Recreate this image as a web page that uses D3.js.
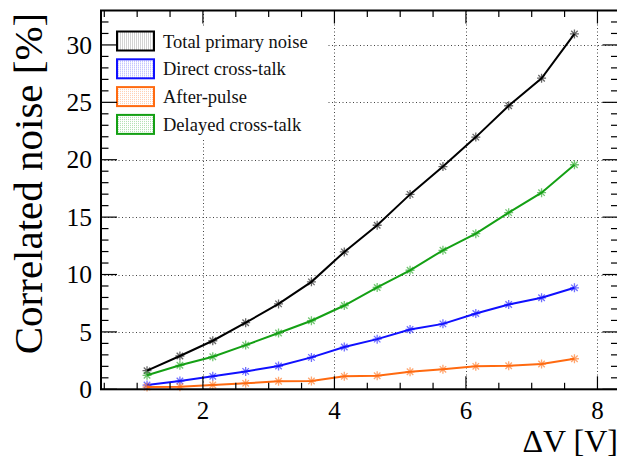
<!DOCTYPE html>
<html>
<head>
<meta charset="utf-8">
<script src="https://cdn.jsdelivr.net/npm/d3@7"></script>
<style>
  html, body { margin: 0; padding: 0; background: #fff; }
  svg { display: block; font-family: "Liberation Serif", "Times New Roman", serif; }
</style>
</head>
<body>
<svg id="chart" width="617" height="464"></svg>
<script>
// bias over breakdown, volts
const overVoltage = [1.15, 1.65, 2.15, 2.65, 3.15, 3.65, 4.15, 4.65, 5.15, 5.65, 6.15, 6.65, 7.15, 7.65];

// correlated noise, percent
const totalNoise   = [1.62, 2.9, 4.23, 5.8, 7.44, 9.36, 11.97, 14.29, 16.98, 19.4, 21.97, 24.7, 27.1, 30.96];
const directXT     = [0.37, 0.72, 1.13, 1.56, 2.03, 2.78, 3.68, 4.37, 5.21, 5.7, 6.6, 7.39, 7.97, 8.84];
const afterPulse   = [0.2, 0.23, 0.37, 0.52, 0.7, 0.72, 1.13, 1.18, 1.53, 1.74, 2.0, 2.05, 2.2, 2.66];
const delayedXT    = [1.22, 2.09, 2.84, 3.85, 4.9, 5.97, 7.3, 8.87, 10.37, 12.11, 13.56, 15.39, 17.13, 19.56];

const seriesNames  = ['Total primary noise', 'Direct cross-talk', 'After-pulse', 'Delayed cross-talk'];
const seriesColors = ['#000000', '#1010ff', '#ff6a10', '#14a014'];

const xMajorTicks = [2, 4, 6, 8];
const yMajorTicks = [0, 5, 10, 15, 20, 25, 30];

const series = [totalNoise, directXT, afterPulse, delayedXT].map((vals, i) => ({
  name: seriesNames[i],
  color: seriesColors[i],
  points: vals.map((v, j) => ({ x: overVoltage[j], y: v }))
}));

const svg = d3.select('#chart');

const frame = { left: 101, right: 618.5, top: 10.5, bottom: 389.3 };

const x = d3.scaleLinear().domain([0.45, 8.32]).range([frame.left, frame.right]);
const y = d3.scaleLinear().domain([0, 33]).range([frame.bottom, frame.top]);

const xMinor = d3.range(0.5, 8.31, 0.5).filter(v => !xMajorTicks.includes(v));
const yMinor = d3.range(1, 33, 1).filter(v => !yMajorTicks.includes(v));

// dotted grid
const grid = svg.append('g').attr('class', 'grid')
  .attr('stroke', '#444').attr('stroke-width', 1).attr('stroke-dasharray', '1,2.5');

grid.selectAll('line.gx').data(xMajorTicks).join('line')
  .attr('class', 'gx')
  .attr('x1', d => Math.round(x(d)) + 0.5).attr('x2', d => Math.round(x(d)) + 0.5)
  .attr('y1', frame.top).attr('y2', frame.bottom);

grid.selectAll('line.gy').data(yMajorTicks.filter(d => d > 0)).join('line')
  .attr('class', 'gy')
  .attr('x1', frame.left).attr('x2', frame.right)
  .attr('y1', d => Math.round(y(d)) + 0.5).attr('y2', d => Math.round(y(d)) + 0.5);

// data lines and asterisk markers
const line = d3.line().x(d => x(d.x)).y(d => y(d.y));

const plot = svg.append('g').attr('class', 'series');

series.forEach(s => {
  plot.append('path')
    .datum(s.points)
    .attr('fill', 'none')
    .attr('stroke', s.color)
    .attr('stroke-width', 2)
    .attr('d', line);

  const r = 4.5;
  plot.append('g')
    .selectAll('path')
    .data(s.points)
    .join('path')
    .attr('transform', d => `translate(${x(d.x)},${y(d.y)})`)
    .attr('d', `M${-r},0H${r}M0,${-r}V${r}M${-r * 0.72},${-r * 0.72}L${r * 0.72},${r * 0.72}M${-r * 0.72},${r * 0.72}L${r * 0.72},${-r * 0.72}`)
    .attr('stroke', s.color)
    .attr('stroke-opacity', 0.6)
    .attr('stroke-width', 1.3)
    .attr('fill', 'none');
});

// legend (white box, no border, stippled swatches)
const defs = svg.append('defs');
series.forEach((s, i) => {
  const pat = defs.append('pattern')
    .attr('id', 'stip' + i)
    .attr('width', 2).attr('height', 2)
    .attr('patternUnits', 'userSpaceOnUse');
  pat.append('rect').attr('width', 2).attr('height', 2).attr('fill', '#fff');
  pat.append('rect').attr('width', 1).attr('height', 1).attr('fill', s.color).attr('fill-opacity', 0.35);
});

const legend = svg.append('g').attr('class', 'legend');
legend.append('rect')
  .attr('x', 104).attr('y', 26).attr('width', 222).attr('height', 114)
  .attr('fill', '#fff');

const entry = legend.selectAll('g.entry').data(series).join('g')
  .attr('class', 'entry')
  .attr('transform', (d, i) => `translate(0,${47.5 + i * 27.8})`);

entry.append('rect')
  .attr('x', 117).attr('y', -16)
  .attr('width', 37).attr('height', 19)
  .attr('fill', (d, i) => `url(#stip${i})`)
  .attr('stroke', d => d.color)
  .attr('stroke-width', 2);

entry.append('text')
  .attr('x', 163).attr('y', 0)
  .style('font-size', '18.5px')
  .style('fill', '#111')
  .text(d => d.name);

// frame and ticks
const axes = svg.append('g').attr('class', 'axes').attr('stroke', '#000');

axes.append('rect')
  .attr('x', frame.left).attr('y', frame.top)
  .attr('width', frame.right - frame.left).attr('height', frame.bottom - frame.top)
  .attr('fill', 'none').attr('stroke-width', 2);

const xTicks = xMajorTicks.map(v => ({ v, len: 13 })).concat(xMinor.map(v => ({ v, len: 6.5 })));
const yTicks = yMajorTicks.map(v => ({ v, len: 16 })).concat(yMinor.map(v => ({ v, len: 7.5 })));

axes.selectAll('line.xb').data(xTicks).join('line')
  .attr('class', 'xb').attr('stroke-width', 1.2)
  .attr('x1', d => x(d.v)).attr('x2', d => x(d.v))
  .attr('y1', frame.bottom).attr('y2', d => frame.bottom - d.len);

axes.selectAll('line.xt').data(xTicks).join('line')
  .attr('class', 'xt').attr('stroke-width', 1.2)
  .attr('x1', d => x(d.v)).attr('x2', d => x(d.v))
  .attr('y1', frame.top).attr('y2', d => frame.top + d.len);

axes.selectAll('line.yl').data(yTicks).join('line')
  .attr('class', 'yl').attr('stroke-width', 1.2)
  .attr('x1', frame.left).attr('x2', d => frame.left + d.len)
  .attr('y1', d => y(d.v)).attr('y2', d => y(d.v));

axes.selectAll('line.yr').data(yTicks).join('line')
  .attr('class', 'yr').attr('stroke-width', 1.2)
  .attr('x1', frame.right).attr('x2', d => frame.right - d.len)
  .attr('y1', d => y(d.v)).attr('y2', d => y(d.v));

// tick labels
svg.append('g').selectAll('text').data(xMajorTicks).join('text')
  .attr('x', d => x(d)).attr('y', 419)
  .attr('text-anchor', 'middle')
  .style('font-size', '25px')
  .text(d => d);

svg.append('g').selectAll('text').data(yMajorTicks).join('text')
  .attr('x', 92).attr('y', d => y(d))
  .attr('dy', '0.34em')
  .attr('text-anchor', 'end')
  .style('font-size', '25.5px')
  .text(d => d);

// axis titles
svg.append('text')
  .attr('x', 618).attr('y', 452)
  .attr('text-anchor', 'end')
  .style('font-size', '32px')
  .text('\u0394V [V]');

svg.append('text')
  .attr('transform', 'translate(41.5,183.5) rotate(-90)')
  .attr('text-anchor', 'middle')
  .style('font-size', '41px')
  .text('Correlated noise [%]');
</script>
</body>
</html>
